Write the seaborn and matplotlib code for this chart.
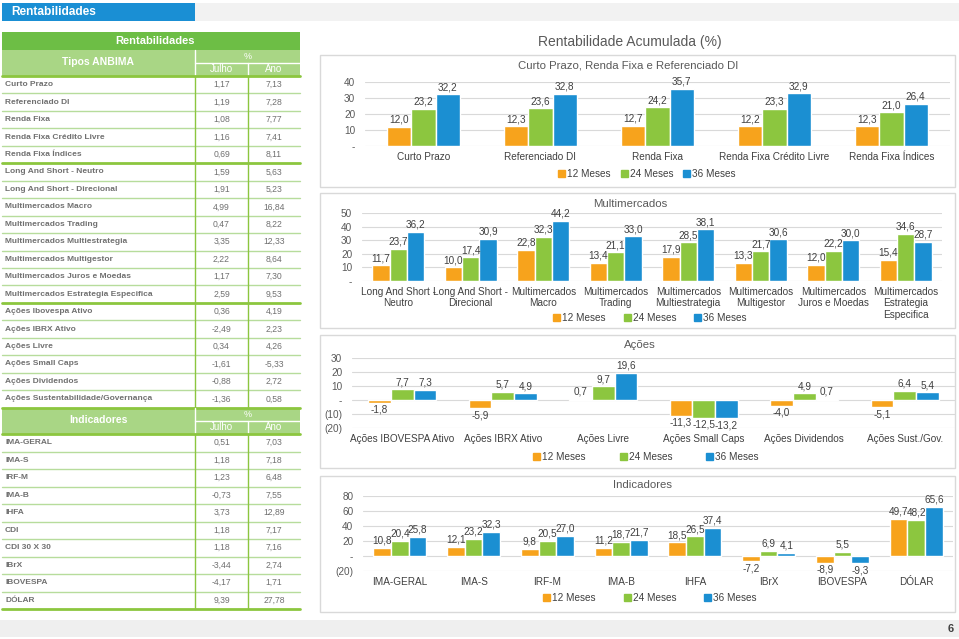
import numpy as np
import pandas as pd
import matplotlib
matplotlib.use("Agg")
import matplotlib.pyplot as plt
from matplotlib.patches import Rectangle, Patch
from matplotlib.ticker import FuncFormatter
import seaborn as sns

# --- table data (left side) ---
anbima_names = ["Curto Prazo", "Referenciado DI", "Renda Fixa", "Renda Fixa Crédito Livre",
                "Renda Fixa Índices", "Long And Short - Neutro", "Long And Short - Direcional",
                "Multimercados Macro", "Multimercados Trading", "Multimercados Multiestrategia",
                "Multimercados Multigestor", "Multimercados Juros e Moedas",
                "Multimercados Estrategia Especifica", "Ações Ibovespa Ativo", "Ações IBRX Ativo",
                "Ações Livre", "Ações Small Caps", "Ações Dividendos",
                "Ações Sustentabilidade/Governança"]
anbima_julho = [1.17, 1.19, 1.08, 1.16, 0.69, 1.59, 1.91, 4.99, 0.47, 3.35, 2.22, 1.17, 2.59,
                0.36, -2.49, 0.34, -1.61, -0.88, -1.36]
anbima_ano = [7.13, 7.28, 7.77, 7.41, 8.11, 5.63, 5.23, 16.84, 8.22, 12.33, 8.64, 7.30, 9.53,
              4.19, 2.23, 4.26, -5.33, 2.72, 0.58]

ind_names = ["IMA-GERAL", "IMA-S", "IRF-M", "IMA-B", "IHFA", "CDI", "CDI 30 X 30", "IBrX",
             "IBOVESPA", "DÓLAR"]
ind_julho = [0.51, 1.18, 1.23, -0.73, 3.73, 1.18, 1.18, -3.44, -4.17, 9.39]
ind_ano = [7.03, 7.18, 6.48, 7.55, 12.89, 7.17, 7.16, 2.74, 1.71, 27.78]

# --- chart data (right side) ---
periods = ["12 Meses", "24 Meses", "36 Meses"]

rf_cats = ["Curto Prazo", "Referenciado DI", "Renda Fixa", "Renda Fixa Crédito Livre",
           "Renda Fixa Índices"]
rf_12 = [12.0, 12.3, 12.7, 12.2, 12.3]
rf_24 = [23.2, 23.6, 24.2, 23.3, 21.0]
rf_36 = [32.2, 32.8, 35.7, 32.9, 26.4]

mm_cats = ["Long And Short -\nNeutro", "Long And Short -\nDirecional", "Multimercados\nMacro",
           "Multimercados\nTrading", "Multimercados\nMultiestrategia", "Multimercados\nMultigestor",
           "Multimercados\nJuros e Moedas", "Multimercados\nEstrategia\nEspecifica"]
mm_12 = [11.7, 10.0, 22.8, 13.4, 17.9, 13.3, 12.0, 15.4]
mm_24 = [23.7, 17.4, 32.3, 21.1, 28.5, 21.7, 22.2, 34.6]
mm_36 = [36.2, 30.9, 44.2, 33.0, 38.1, 30.6, 30.0, 28.7]

ac_cats = ["Ações IBOVESPA Ativo", "Ações IBRX Ativo", "Ações Livre", "Ações Small Caps",
           "Ações Dividendos", "Ações Sust./Gov."]
ac_12 = [-1.8, -5.9, 0.7, -11.3, -4.0, -5.1]
ac_24 = [7.7, 5.7, 9.7, -12.5, 4.9, 6.4]
ac_36 = [7.3, 4.9, 19.6, -13.2, 0.7, 5.4]

in_cats = ["IMA-GERAL", "IMA-S", "IRF-M", "IMA-B", "IHFA", "IBrX", "IBOVESPA", "DÓLAR"]
in_12 = [10.8, 12.1, 9.8, 11.2, 18.5, -7.2, -8.9, 49.7]
in_24 = [20.4, 23.2, 20.5, 18.7, 26.5, 6.9, 5.5, 48.2]
in_36 = [25.8, 32.3, 27.0, 21.7, 37.4, 4.1, -9.3, 65.6]

colors = ["#F7A31C", "#8CC63F", "#1B8FD2"]
GRAY = "#595959"
DGREEN = "#6DBE45"
LGREEN = "#A9D685"
LINE = "#B7DC9C"

sns.set_theme(style="white")
plt.rcParams['font.family'] = ['Liberation Sans Narrow', 'Liberation Sans', 'DejaVu Sans']

W, H = 959, 639
fig = plt.figure(figsize=(W / 100, H / 100), dpi=100)
fig.patch.set_facecolor("white")


def box(x0, y0, x1, y1):
    return [x0 / W, 1 - y1 / H, (x1 - x0) / W, (y1 - y0) / H]


bg = fig.add_axes([0, 0, 1, 1], zorder=0)
bg.set_xlim(0, W)
bg.set_ylim(H, 0)
bg.axis("off")

TF = ['Liberation Sans', 'DejaVu Sans']

# header strip
bg.add_patch(Rectangle((195, 3), 764, 18, color="#F2F2F2", lw=0))
bg.add_patch(Rectangle((2, 3), 193, 18, color="#1A8FD4", lw=0))
bg.text(11, 12, "Rentabilidades", color="white", fontsize=8.6, fontweight="bold",
        va="center", family=TF)

# footer strip
bg.add_patch(Rectangle((0, 620), W, 17, color="#EFEFEF", lw=0))
bg.text(954, 629, "6", color="#404040", fontsize=8, fontweight="bold", ha="right", va="center",
        family=TF)

# --- table ---
tx0, c1, c2, tx1 = 2, 195, 248, 300
bg.add_patch(Rectangle((tx0, 32), tx1 - tx0, 18, color=DGREEN, lw=0))
bg.text(155, 41, "Rentabilidades", color="white", fontsize=8, fontweight="bold",
        ha="center", va="center", family=TF)


def sub_header(y0, label):
    bg.add_patch(Rectangle((tx0, y0), tx1 - tx0, 26, color=LGREEN, lw=0))
    bg.plot([c1, c1], [y0, y0 + 26], color="white", lw=1)
    bg.plot([c1, tx1], [y0 + 13, y0 + 13], color="white", lw=1)
    bg.plot([c2, c2], [y0 + 13, y0 + 26], color="white", lw=1)
    bg.text((tx0 + c1) / 2, y0 + 12, label, color="white", fontsize=7.5, fontweight="bold",
            ha="center", va="center", family=TF)
    bg.text((c1 + tx1) / 2, y0 + 6.5, "%", color="white", fontsize=6.5,
            ha="center", va="center", family=TF)
    bg.text((c1 + c2) / 2, y0 + 19.5, "Julho", color="white", fontsize=7,
            ha="center", va="center", family=TF)
    bg.text((c2 + tx1) / 2, y0 + 19.5, "Ano", color="white", fontsize=7,
            ha="center", va="center", family=TF)


def rows(y0, h, names, jul, ano, thick_after):
    n = len(names)
    for i in range(n):
        yc = y0 + (i + 0.5) * h
        bg.text(5, yc, names[i], color="#707070", fontsize=6.0, fontweight="bold",
                va="center", family=TF)
        bg.text((c1 + c2) / 2, yc, f"{jul[i]:.2f}".replace(".", ","), color="#707070",
                fontsize=6.2, ha="center", va="center", family=TF)
        bg.text((c2 + tx1) / 2, yc, f"{ano[i]:.2f}".replace(".", ","), color="#707070",
                fontsize=6.2, ha="center", va="center", family=TF)
        yl = y0 + (i + 1) * h
        lw = 2 if (i + 1) in thick_after else 1
        col = "#8CC63F" if lw == 2 else LINE
        bg.plot([tx0, tx1], [yl, yl], color=col, lw=lw)
    bg.plot([c1, c1], [y0, y0 + n * h], color="#8CC63F", lw=1)
    bg.plot([c2, c2], [y0, y0 + n * h], color="#8CC63F", lw=1)


sub_header(50, "Tipos ANBIMA")
bg.plot([tx0, tx1], [76, 76], color="#8CC63F", lw=2)
rows(76, 17.45, anbima_names, anbima_julho, anbima_ano, [5, 13, 19])
sub_header(408, "Indicadores")
bg.plot([tx0, tx1], [434, 434], color="#8CC63F", lw=2)
rows(434, 17.5, ind_names, ind_julho, ind_ano, [10])

# --- charts ---
bg.text(630, 42, "Rentabilidade Acumulada (%)", color=GRAY, fontsize=10, ha="center",
        va="center")


def tick_fmt(v, pos):
    if abs(v) < 1e-9:
        return "-"
    if v < 0:
        return f"({abs(v):.0f})"
    return f"{v:.0f}"


def chart(frame, title, cats, s12, s24, s36, area, ylim, step, width, title_xy, leg_xy, colsp):
    x0, y0, x1, y1 = frame
    bg.add_patch(Rectangle((x0, y0), x1 - x0, y1 - y0, fill=False, ec="#D9D9D9", lw=1))
    bg.text(title_xy[0], title_xy[1], title, color=GRAY, fontsize=8.2, ha="center",
            va="center")
    df = pd.DataFrame({
        "cat": cats * 3,
        "per": [p for p in periods for _ in cats],
        "val": list(s12) + list(s24) + list(s36),
    })
    ax = fig.add_axes(box(*area), zorder=2)
    ax.set_facecolor("none")
    sns.barplot(data=df, x="cat", y="val", hue="per", order=cats, hue_order=periods,
                palette=colors, width=width, gap=0, saturation=1, ax=ax, legend=False,
                errorbar=None)
    for cont in ax.containers:
        labs = [f"{b.get_height():.1f}".replace(".", ",") for b in cont]
        ax.bar_label(cont, labels=labs, padding=1.5, fontsize=7.2, color="#404040")
    ax.set_ylim(*ylim)
    ax.set_yticks(np.arange(ylim[0], ylim[1] + 0.1, step))
    ax.yaxis.set_major_formatter(FuncFormatter(tick_fmt))
    ax.grid(axis="y", color="#D9D9D9", lw=0.8)
    ax.set_axisbelow(True)
    for s in ax.spines.values():
        s.set_visible(False)
    ax.tick_params(axis="y", labelsize=7.2, labelcolor=GRAY, length=0, pad=7)
    ax.tick_params(axis="x", labelsize=7.2, labelcolor="#404040", length=0, pad=4)
    ax.set_xlabel("")
    ax.set_ylabel("")
    handles = [Patch(color=c) for c in colors]
    fig.legend(handles, periods, loc="center", bbox_to_anchor=(leg_xy[0] / W, 1 - leg_xy[1] / H),
               ncol=3, frameon=False, fontsize=7.2, handlelength=0.7, handleheight=0.7,
               handletextpad=0.2, columnspacing=colsp, labelcolor="#404040")
    return ax


chart((320, 55, 955, 187), "Curto Prazo, Renda Fixa e Referenciado DI", rf_cats, rf_12, rf_24,
      rf_36, (365, 82, 950, 146), (0, 40), 10, 0.62, (628, 66), (647, 174), 1.0)
chart((320, 193, 955, 328), "Multimercados", mm_cats, mm_12, mm_24, mm_36,
      (362, 213, 942, 281), (0, 50), 10, 0.72, (630, 204), (650, 318), 1.8)
chart((320, 335, 955, 468), "Ações", ac_cats, ac_12, ac_24, ac_36,
      (352, 358, 955, 428), (-20, 30), 10, 0.68, (640, 345), (646, 457), 3.4)
chart((320, 476, 955, 612), "Indicadores", in_cats, in_12, in_24, in_36,
      (363, 496, 953, 571), (-20, 80), 20, 0.72, (643, 485), (650, 598), 2.8)

fig.savefig("out.png", dpi=100, facecolor="white")
